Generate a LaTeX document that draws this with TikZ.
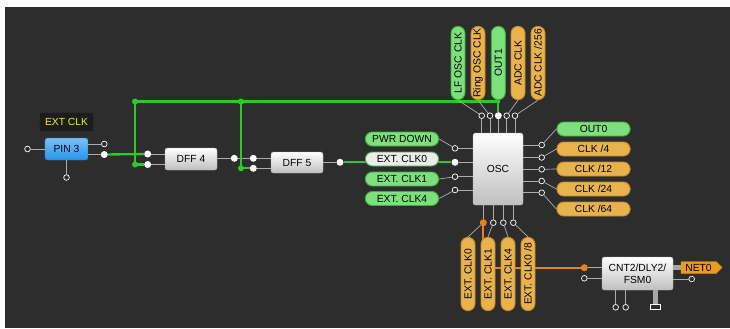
\documentclass[tikz,border=0pt]{standalone}
\usepackage{fontspec}
\setmainfont{Liberation Sans}
\usetikzlibrary{shapes.misc, shapes.symbols, positioning}

\definecolor{canvas}{HTML}{2D2D2D}
\definecolor{tagbg}{HTML}{1C1C1C}
\definecolor{wiregreen}{HTML}{2CC82C}
\definecolor{wireorange}{HTML}{E8821E}
\definecolor{pillgreen}{HTML}{7DE07D}
\definecolor{pillgreenedge}{HTML}{3DB03D}
\definecolor{pillorange}{HTML}{E8B24C}
\definecolor{pillorangeedge}{HTML}{C88A28}
\definecolor{netorange}{HTML}{EE9A1A}
\definecolor{pinblue}{HTML}{2496EA}
\definecolor{blueedge}{HTML}{1A70C0}
\definecolor{labelyellow}{HTML}{F0F000}

\begin{document}
\begin{tikzpicture}[
    x=0.03cm, y=-0.03cm,
    font=\fontsize{8.8}{10}\selectfont,
    wire/.style={draw=gray!65, line width=0.6pt},
    gwire/.style={draw=wiregreen, line width=2pt},
    owire/.style={draw=wireorange, line width=1.8pt},
    port/.style={circle, draw=white, fill=canvas, line width=0.6pt, inner sep=0pt, minimum size=0.17cm},
    porton/.style={circle, fill=white, inner sep=0pt, minimum size=0.21cm},
    portorange/.style={circle, fill=wireorange, inner sep=0pt, minimum size=0.21cm},
    gdot/.style={circle, fill=wiregreen, inner sep=0pt, minimum size=0.18cm},
    block/.style={draw=gray!60, rounded corners=2pt, top color=white, bottom color=gray!50, inner sep=0pt, align=center, text=black},
    gpill/.style={rounded rectangle, draw=pillgreenedge, fill=pillgreen, line width=0.8pt,
        minimum width=2.2cm, minimum height=0.42cm, inner sep=0pt, text=black},
    opill/.style={gpill, draw=pillorangeedge, fill=pillorange},
    wpill/.style={gpill, fill=gray!15},
]
% canvas
\fill[white] (0,0) rectangle (730,328);
\fill[canvas] (5,7) rectangle (730,328);

% blocks
\node[block, top color=pinblue!60!white, bottom color=pinblue, draw=blueedge,
      text=black!85!blue, minimum width=1.29cm, minimum height=0.66cm] (pin3) at (66.5,149) {PIN 3};
\node[fill=tagbg, text=labelyellow, rounded corners=1pt, minimum width=1.59cm, minimum height=0.55cm, inner sep=0pt] (extclk) at (66.5,122) {EXT CLK};
\node[block, minimum width=1.56cm, minimum height=0.66cm] (dff4) at (191,159) {DFF 4};
\node[block, minimum width=1.56cm, minimum height=0.63cm] (dff5) at (297,162.5) {DFF 5};
\node[block, minimum width=1.5cm, minimum height=2.16cm] (osc) at (498,169) {OSC};
\node[block, minimum width=2.13cm, minimum height=0.99cm] (cnt) at (637.5,273.5) {CNT2/DLY2/\\FSM0};

% ports of PIN 3
\node[port] (pin3L) at (27.5,149) {};
\node[port] (pin3R1) at (104.3,144) {};
\node[porton] (pin3R2) at (104.3,154.5) {};
\node[port] (pin3B) at (66.5,177.5) {};

% ports of the flip-flops
\node[porton] (dff4I1) at (147.7,154) {};
\node[porton] (dff4I2) at (147.7,164.5) {};
\node[porton] (dff4O) at (234.3,158.3) {};
\node[porton] (dff5I1) at (253.3,158.3) {};
\node[porton] (dff5I2) at (253.3,168.3) {};
\node[porton] (dff5O) at (340,162.3) {};

% ports of OSC
\node[port] (oscL1) at (455,148.3) {};
\node[porton] (oscL2) at (455,162.3) {};
\node[port] (oscL3) at (455,176.7) {};
\node[port] (oscL4) at (455,190) {};
\node[port] (oscT1) at (481.7,115.7) {};
\node[port] (oscT2) at (490,115.7) {};
\node[porton] (oscT3) at (498.3,115.7) {};
\node[port] (oscT4) at (506.7,115.7) {};
\node[port] (oscT5) at (515,115.7) {};
\node[port] (oscR1) at (541.7,145) {};
\node[port] (oscR2) at (541.7,157.5) {};
\node[port] (oscR3) at (541.7,169.3) {};
\node[port] (oscR4) at (541.7,181) {};
\node[port] (oscR5) at (541.7,192.7) {};
\node[portorange] (oscB1) at (483.3,222.7) {};
\node[port] (oscB2) at (493.3,222.7) {};
\node[port] (oscB3) at (503.3,222.7) {};
\node[port] (oscB4) at (513.3,222.7) {};

% ports of CNT2
\node[portorange] (cntL1) at (584.3,267.7) {};
\node[port] (cntL2) at (584.3,278.3) {};
\node[port] (cntR) at (691.7,279) {};
\node[port] (cntB1) at (615.7,307.3) {};
\node[port] (cntB2) at (625.7,307.3) {};
\node[draw=white, fill=canvas, line width=0.6pt, minimum width=0.3cm, minimum height=0.15cm, inner sep=0pt] (cntB3) at (655.7,306.8) {};

% stubs from ports to blocks
\draw[wire] (pin3L) -- (pin3L -| pin3.west);
\draw[wire] (pin3R1) -- (pin3R1 -| pin3.east);
\draw[wire] (pin3R2) -- (pin3R2 -| pin3.east);
\draw[wire] (pin3B) -- (pin3B |- pin3.south);
\foreach \p in {dff4I1, dff4I2} \draw[wire] (\p) -- (\p -| dff4.west);
\draw[wire] (dff4O) -- (dff4O -| dff4.east);
\foreach \p in {dff5I1, dff5I2} \draw[wire] (\p) -- (\p -| dff5.west);
\draw[wire] (dff5O) -- (dff5O -| dff5.east);
\foreach \p in {oscL1, oscL2, oscL3, oscL4} \draw[wire] (\p) -- (\p -| osc.west);
\foreach \p in {oscR1, oscR2, oscR3, oscR4, oscR5} \draw[wire] (\p) -- (\p -| osc.east);
\foreach \p in {oscT1, oscT2, oscT3, oscT4, oscT5} \draw[wire] (\p) -- (\p |- osc.north);
\foreach \p in {oscB1, oscB2, oscB3, oscB4} \draw[wire] (\p) -- (\p |- osc.south);
\foreach \p in {cntL1, cntL2} \draw[wire] (\p) -- (\p -| cnt.west);
\draw[wire] (cntR) -- (cntR -| cnt.east);
\foreach \p in {cntB1, cntB2} \draw[wire] (\p) -- (\p |- cnt.south);
\draw[draw=gray!70, line width=4pt] (cntB3.north) -- (cntB3 |- cnt.south);

% nets
\coordinate (gjA) at (135,101.5);
\coordinate (gjB) at (241,101.5);
\coordinate (gjC) at (135,164.5);
\coordinate (gjD) at (241,168.3);
\coordinate (gjE) at (498.3,101.5);
\coordinate (ojA) at (483.3,267.7);
\draw[wire] (dff4O) -- (dff5I1);
\draw[gwire] (pin3R2) -- (dff4I1);
\draw[gwire] (oscT3) -- (gjE) -- (gjA) -- (gjC) -- (dff4I2);
\draw[gwire] (gjB) -- (gjD) -- (dff5I2);
\draw[gwire] (dff5O) -- (oscL2);
\draw[owire] (oscB1) -- (ojA) -- (cntL1);
\foreach \j in {gjA, gjB, gjC, gjD} \node[gdot] at (\j) {};
\node[gdot, minimum size=0.12cm] at (gjE) {};

% signal labels, left of OSC
\node[gpill] (pwrdown) at (402,139) {PWR DOWN};
\node[wpill] (inclk0) at (402,159) {EXT. CLK0};
\node[gpill] (inclk1) at (402,179) {EXT. CLK1};
\node[gpill] (inclk4) at (402,198.5) {EXT. CLK4};
\draw[wire] (pwrdown.east) -- (oscL1);
\draw[wire] (inclk1.east) -- (oscL3);
\draw[wire] (inclk4.east) -- (oscL4);

% signal labels, above OSC
\node[gpill, rotate=90] (lfosc) at (458,63) {LF OSC CLK};
\node[opill, rotate=90] (ringosc) at (478,63) {Ring OSC CLK};
\node[gpill, rotate=90] (outone) at (498.3,63) {OUT1};
\node[opill, rotate=90] (adcclk) at (518,63) {ADC CLK};
\node[opill, rotate=90] (adcdiv) at (538,63) {ADC CLK /256};
\draw[wire] (lfosc.west) -- (oscT1);
\draw[wire] (ringosc.west) -- (oscT2);
\draw[wire] (adcclk.west) -- (oscT4);
\draw[wire] (adcdiv.west) -- (oscT5);

% signal labels, right of OSC
\node[gpill] (outzero) at (593.5,129) {OUT0};
\node[opill] (clkd4) at (593.5,149) {CLK /4};
\node[opill] (clkd12) at (593.5,169) {CLK /12};
\node[opill] (clkd24) at (593.5,189) {CLK /24};
\node[opill] (clkd64) at (593.5,209) {CLK /64};
\draw[wire] (oscR1) -- (outzero.west);
\draw[wire] (oscR2) -- (clkd4.west);
\draw[wire] (oscR3) -- (clkd12.west);
\draw[wire] (oscR4) -- (clkd24.west);
\draw[wire] (oscR5) -- (clkd64.west);

% signal labels, below OSC
\node[opill, rotate=90] (outclk0) at (468,274) {EXT. CLK0};
\node[opill, rotate=90] (outclk1) at (488,274) {EXT. CLK1};
\node[opill, rotate=90] (outclk4) at (508,274) {EXT. CLK4};
\node[opill, rotate=90] (outclk8) at (528,274) {EXT. CLK0 /8};
\draw[wire] (oscB1) -- (outclk0.east);
\draw[wire] (oscB2) -- (outclk1.east);
\draw[wire] (oscB3) -- (outclk4.east);
\draw[wire] (oscB4) -- (outclk8.east);

% net tag on CNT2
\node[signal, signal to=east, fill=netorange, draw=pillorangeedge, text=black,
      minimum width=1.23cm, minimum height=0.36cm, inner sep=0pt] (netzero) at (698.5,267.5) {NET0};
\draw[draw=gray!70, line width=4pt] (cnt.east |- netzero) -- (netzero.west);
\end{tikzpicture}
\end{document}
